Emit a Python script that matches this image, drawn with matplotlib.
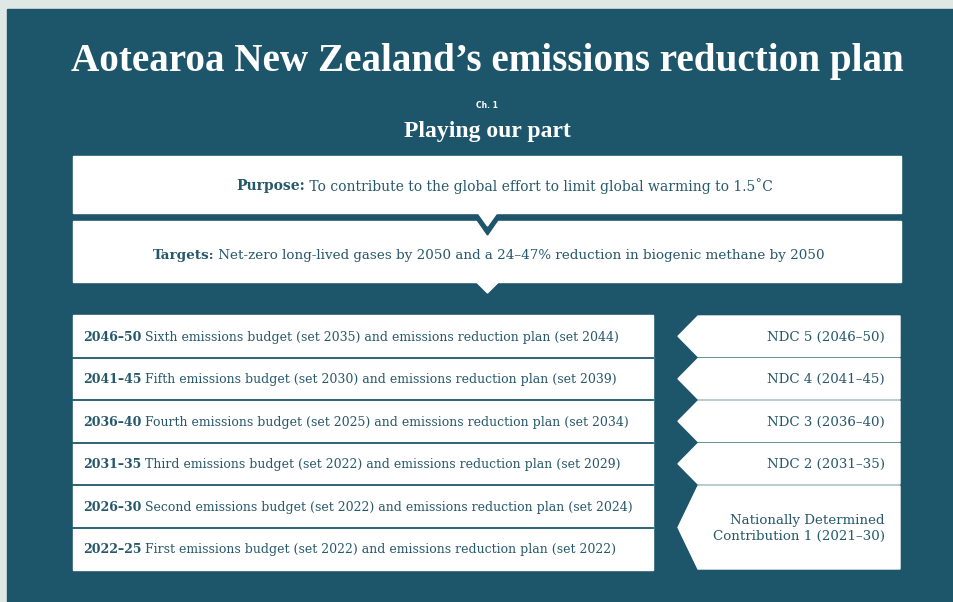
import matplotlib
matplotlib.use('Agg')
import matplotlib.pyplot as plt
from matplotlib.patches import Polygon, Rectangle

# content
title = 'Aotearoa New Zealand\u2019s emissions reduction plan'
chapter = 'Ch. 1'
subtitle = 'Playing our part'
purpose = ('Purpose:', ' To contribute to the global effort to limit global warming to 1.5\u02daC')
targets = ('Targets:', ' Net-zero long-lived gases by 2050 and a 24\u201347% reduction in biogenic methane by 2050')

periods = ['2046\u201350', '2041\u201345', '2036\u201340', '2031\u201335', '2026\u201330', '2022\u201325']
ordinals = ['Sixth', 'Fifth', 'Fourth', 'Third', 'Second', 'First']
budget_set = [2035, 2030, 2025, 2022, 2022, 2022]
plan_set = [2044, 2039, 2034, 2029, 2024, 2022]

ndc_labels = ['NDC 5 (2046\u201350)', 'NDC 4 (2041\u201345)', 'NDC 3 (2036\u201340)',
              'NDC 2 (2031\u201335)', 'Nationally Determined\nContribution 1 (2021\u201330)']
ndc_rows = [1, 1, 1, 1, 2]

BG = '#1d566b'
EDGE = '#dfe8e5'
TXT = '#26586b'
SERIF = 'DejaVu Serif'

W, H = 954, 602
fig = plt.figure(figsize=(W / 100, H / 100), dpi=100, facecolor=EDGE)
ax = fig.add_axes([0, 0, 1, 1])
ax.set_xlim(0, W)
ax.set_ylim(H, 0)
ax.axis('off')
renderer = fig.canvas.get_renderer()

ax.add_patch(Rectangle((7, 9), W - 7, H - 9, color=BG, zorder=0))


def width_of(t):
    return t.get_window_extent(renderer).width


def runs(x, y, parts, size, ha='left', color=TXT):
    # parts: list of (text, weight); draw one after another on the same line
    objs = [ax.text(0, y, s, fontsize=size, fontweight=w, family=SERIF, color=color,
                    va='center', ha='left', zorder=5) for s, w in parts]
    widths = [width_of(o) for o in objs]
    total = sum(widths)
    start = x - total / 2 if ha == 'center' else x
    for o, w in zip(objs, widths):
        o.set_x(start)
        start += w


# header
ax.text(487, 61, title, ha='center', va='center', color='white', fontsize=28.2,
        fontweight='bold', family='Liberation Serif')
ax.text(487, 106, chapter, ha='center', va='center', color='white', fontsize=5.5,
        fontweight='bold', family='DejaVu Sans')
ax.text(487, 131, subtitle, ha='center', va='center', color='white', fontsize=17,
        fontweight='bold', family='Liberation Serif')

# purpose / targets boxes with chevrons
cx = 487.5
ax.add_patch(Rectangle((73, 221), 828, 61, color='white', zorder=1))
ax.add_patch(Polygon([(cx - 11, 282), (cx + 11, 282), (cx, 293)], color='white', zorder=1))
ax.add_patch(Polygon([(cx - 16, 212), (cx + 16, 212), (cx, 235)], color=BG, zorder=2))
ax.add_patch(Rectangle((73, 156), 828, 57, color='white', zorder=3))
ax.add_patch(Polygon([(cx - 10, 212), (cx + 10, 212), (cx, 226)], color='white', zorder=3))

runs(505, 186, [(purpose[0], 'bold'), (purpose[1], 'normal')], 10.0, ha='center')
runs(489, 255, [(targets[0], 'bold'), (targets[1], 'normal')], 9.7, ha='center')

# budget table
top, row_h = 315, 42.5
x0, x1 = 73, 653
ax.add_patch(Rectangle((x0, top), x1 - x0, row_h * len(periods), color='white', zorder=1))
for i, (p, o, b, pl) in enumerate(zip(periods, ordinals, budget_set, plan_set)):
    yc = top + row_h * (i + 0.5)
    runs(83, yc + 1, [(p, 'bold'),
                      (' %s emissions budget (set %d) and emissions reduction plan (set %d)' % (o, b, pl), 'normal')],
         9.0)
    if i > 0:
        ax.plot([x0, x1], [top + row_h * i] * 2, color=BG, lw=1.3, zorder=2)

# NDC arrows
row = 0
for lab, n in zip(ndc_labels, ndc_rows):
    yt = top + row_h * row + 1
    yb = top + row_h * (row + n) - 1
    ym = (yt + yb) / 2
    ax.add_patch(Polygon([(698, yt), (900, yt), (900, yb), (698, yb), (678, ym)],
                         color='white', zorder=1))
    ax.text(885, ym + 1, lab, ha='right', va='center', color=TXT, fontsize=9.6,
            family=SERIF, linespacing=1.3, zorder=5)
    row += n

fig.savefig('out.png', dpi=100, facecolor=EDGE)
